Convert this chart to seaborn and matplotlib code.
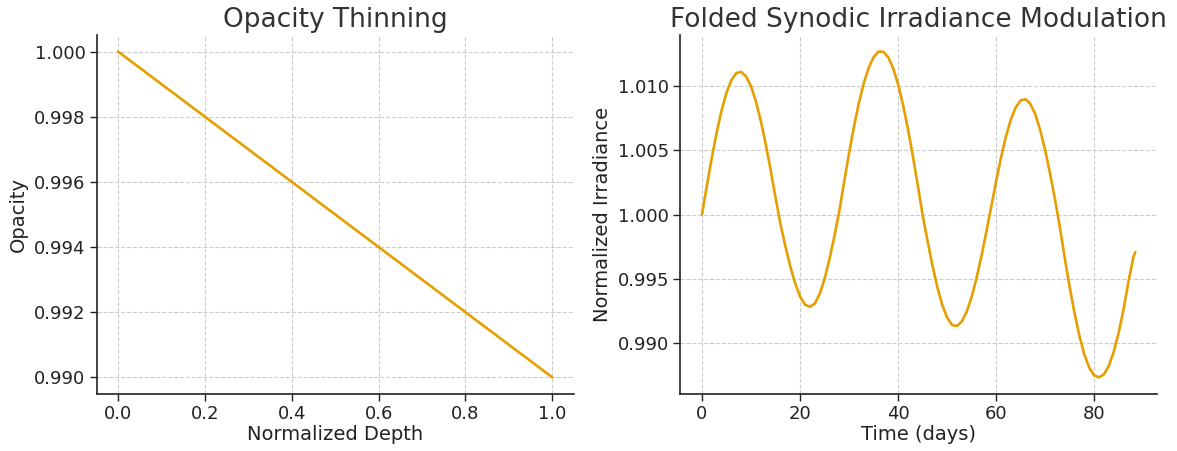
import matplotlib
matplotlib.use("Agg")
import matplotlib.pyplot as plt
import seaborn as sns
from matplotlib.ticker import FormatStrFormatter

# left panel: opacity vs depth
depth = [0.0, 1.0]
opacity = [1.000, 0.990]

# right panel: folded irradiance
days = list(range(89)) + [88.4]
irradiance = [
    1.00000, 1.00225, 1.00440, 1.00638, 1.00809, 1.00946, 1.01044, 1.01099,
    1.01108, 1.01073, 1.00996, 1.00879, 1.00728, 1.00548, 1.00347, 1.00133,
    0.99929, 0.99757, 0.99600, 0.99467, 0.99365, 0.99302, 0.99284, 0.99309,
    0.99383, 0.99500, 0.99653, 0.99830, 1.00023, 1.00254, 1.00475, 1.00682,
    1.00865, 1.01019, 1.01139, 1.01222, 1.01265, 1.01265, 1.01222, 1.01137,
    1.01013, 1.00855, 1.00669, 1.00459, 1.00234, 1.00000, 0.99799, 0.99608,
    0.99439, 0.99301, 0.99201, 0.99144, 0.99135, 0.99170, 0.99246, 0.99360,
    0.99506, 0.99677, 0.99865, 1.00060, 1.00259, 1.00443, 1.00605, 1.00738,
    1.00833, 1.00887, 1.00896, 1.00859, 1.00778, 1.00656, 1.00501, 1.00320,
    1.00122, 0.99903, 0.99665, 0.99439, 0.99235, 0.99057, 0.98914, 0.98812,
    0.98752, 0.98737, 0.98760, 0.98827, 0.98937, 0.99084, 0.99265, 0.99480,
    0.99670, 0.99709,
]
irr_ticks = [0.990, 0.995, 1.000, 1.005, 1.010]

line_color = "#E69F00"

sns.set_style("ticks", {
    "axes.grid": True,
    "grid.linestyle": "--",
    "grid.color": "#cccccc",
    "axes.edgecolor": "#222222",
})
plt.rcParams["font.family"] = ["DejaVu Sans"]

fig = plt.figure(figsize=(11.77, 4.51), dpi=100)
W, H = 1177, 451
ax1 = fig.add_axes([96.5 / W, (H - 393.6) / H, (574 - 96.5) / W, (393.6 - 35.4) / H])
ax2 = fig.add_axes([680.3 / W, (H - 393.6) / H, (1157 - 680.3) / W, (393.6 - 35.4) / H])

sns.lineplot(x=depth, y=opacity, ax=ax1, color=line_color, linewidth=1.9)
ax1.set_title("Opacity Thinning", fontsize=19, color="#333333")
ax1.set_xlabel("Normalized Depth", fontsize=14, color="#222222", labelpad=1.5)
ax1.set_ylabel("Opacity", fontsize=14, color="#222222")
ax1.yaxis.set_major_formatter(FormatStrFormatter("%.3f"))

sns.lineplot(x=days, y=irradiance, ax=ax2, color=line_color, linewidth=1.9)
ax2.set_title("Folded Synodic Irradiance Modulation", fontsize=19, color="#333333")
ax2.set_xlabel("Time (days)", fontsize=14, color="#222222", labelpad=1.5)
ax2.set_ylabel("Normalized Irradiance", fontsize=14, color="#222222")
ax2.set_yticks(irr_ticks)
ax2.yaxis.set_major_formatter(FormatStrFormatter("%.3f"))

for ax in (ax1, ax2):
    ax.tick_params(labelsize=13, colors="#222222", length=5, width=1, pad=3)
    ax.grid(True, linestyle="--", color="#cccccc", linewidth=0.8)
    for s in ("left", "bottom"):
        ax.spines[s].set_linewidth(1.2)
    sns.despine(ax=ax)

fig.savefig("out.png", dpi=100)
